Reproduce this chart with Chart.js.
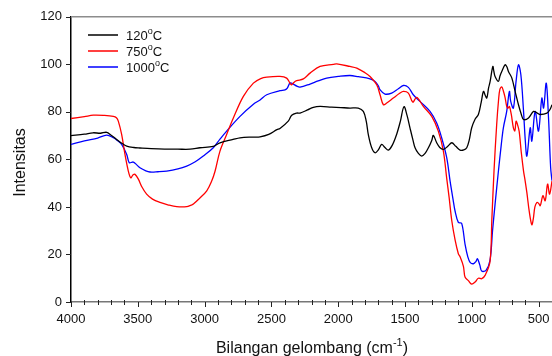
<!DOCTYPE html>
<html>
<head>
<meta charset="utf-8">
<script src="https://cdn.jsdelivr.net/npm/chart.js@4"></script>
<style>
  html, body { margin: 0; padding: 0; background: #fff; }
  #wrap { width: 552px; height: 356px; }
</style>
</head>
<body>
<div id="wrap"><canvas id="ftir"></canvas></div>
<script>
// Series labels (the "o" is drawn as superscript degree sign)
const seriesNames = ["120", "750", "1000"];
const seriesColors = ["#000000", "#ff0000", "#0000ff"];

// 120 C sample
const wn120 = [4000, 3900, 3835, 3780, 3733, 3700, 3658, 3620, 3583, 3530, 3484, 3400, 3300, 3200, 3109, 3034, 2935, 2885, 2787, 2735, 2637, 2585, 2520, 2459, 2436, 2374, 2348, 2311, 2286, 2230, 2186, 2136, 2050, 1980, 1912, 1850, 1812, 1790, 1775, 1750, 1725, 1700, 1675, 1650, 1625, 1595, 1563, 1535, 1508, 1485, 1463, 1440, 1425, 1400, 1375, 1350, 1325, 1300, 1288, 1263, 1240, 1213, 1180, 1150, 1120, 1088, 1060, 1038, 1020, 1001, 975, 951, 930, 913, 900, 888, 875, 863, 843, 835, 826, 801, 790, 776, 751, 738, 726, 701, 676, 651, 630, 613, 576, 538, 510, 488, 438, 415, 400];
const val120 = [70.0, 70.6, 71.2, 71.0, 71.4, 70.2, 68.4, 66.8, 65.6, 65.0, 64.8, 64.5, 64.3, 64.3, 64.3, 64.9, 65.5, 67.0, 68.4, 69.1, 69.4, 69.5, 70.5, 72.5, 73.0, 76.1, 78.6, 79.5, 79.5, 80.8, 81.9, 82.3, 82.0, 81.8, 81.6, 81.6, 80.2, 76.0, 70.5, 65.0, 62.8, 64.0, 66.3, 65.0, 63.9, 66.0, 70.5, 76.0, 82.2, 78.5, 73.3, 68.0, 64.9, 62.5, 61.4, 62.5, 64.9, 68.0, 70.1, 67.0, 65.0, 64.2, 65.5, 67.0, 65.5, 63.9, 64.0, 64.9, 68.0, 73.3, 77.0, 78.9, 84.0, 88.6, 87.0, 85.8, 90.0, 92.8, 99.1, 97.0, 94.9, 92.8, 95.0, 97.0, 99.8, 99.0, 97.0, 94.3, 88.6, 83.0, 79.0, 76.8, 77.4, 80.2, 79.5, 78.9, 79.5, 81.0, 83.0];

// 750 C sample
const wn750 = [4000, 3900, 3833, 3750, 3683, 3660, 3646, 3621, 3596, 3571, 3553, 3535, 3521, 3496, 3470, 3434, 3390, 3334, 3270, 3209, 3134, 3100, 3084, 3040, 2984, 2947, 2922, 2885, 2835, 2785, 2710, 2635, 2580, 2535, 2436, 2386, 2361, 2348, 2330, 2311, 2261, 2211, 2136, 2036, 2011, 1912, 1861, 1800, 1762, 1712, 1687, 1662, 1637, 1588, 1540, 1513, 1475, 1442, 1413, 1363, 1300, 1251, 1213, 1188, 1170, 1150, 1125, 1101, 1088, 1063, 1051, 1026, 1001, 976, 951, 926, 901, 864, 850, 834, 814, 800, 790, 776, 765, 751, 739, 730, 719, 705, 689, 678, 669, 660, 646, 630, 613, 601, 588, 570, 551, 540, 528, 513, 500, 488, 468, 451, 433, 418, 400];
const val750 = [77.2, 78.0, 78.6, 78.5, 78.1, 77.5, 76.1, 70.5, 62.1, 55.1, 52.3, 53.5, 53.7, 51.7, 48.5, 45.4, 43.3, 41.9, 40.8, 40.1, 40.1, 40.8, 41.2, 43.5, 46.8, 50.9, 55.0, 63.5, 70.5, 77.4, 86.5, 92.1, 94.0, 94.6, 94.9, 94.2, 92.1, 91.4, 92.5, 93.1, 93.9, 96.3, 99.1, 100.0, 100.2, 99.1, 98.4, 96.5, 94.9, 91.4, 87.2, 83.0, 83.7, 85.8, 87.8, 88.6, 87.9, 84.1, 86.1, 82.3, 78.1, 71.9, 63.5, 52.0, 44.0, 34.2, 26.0, 20.3, 19.0, 15.0, 10.5, 9.0, 7.5, 8.4, 10.0, 9.8, 11.2, 17.0, 35.0, 55.1, 74.7, 85.0, 89.5, 90.5, 89.0, 86.0, 82.3, 81.5, 82.3, 79.0, 73.3, 72.0, 76.1, 75.0, 71.9, 63.0, 55.1, 51.0, 46.0, 38.0, 32.5, 35.0, 40.0, 41.9, 41.5, 40.5, 44.7, 42.6, 49.6, 45.4, 50.9];

// 1000 C sample
const wn1000 = [4000, 3900, 3800, 3733, 3683, 3650, 3621, 3583, 3564, 3534, 3510, 3484, 3440, 3409, 3350, 3284, 3200, 3134, 3070, 3010, 2935, 2885, 2835, 2735, 2635, 2585, 2535, 2436, 2398, 2381, 2361, 2336, 2310, 2286, 2211, 2150, 2086, 2000, 1912, 1850, 1762, 1725, 1700, 1687, 1650, 1600, 1550, 1513, 1475, 1438, 1388, 1313, 1263, 1226, 1188, 1163, 1140, 1126, 1101, 1076, 1051, 1030, 1013, 988, 970, 958, 940, 926, 894, 864, 845, 826, 801, 780, 764, 739, 719, 709, 689, 669, 651, 633, 613, 600, 588, 563, 551, 526, 501, 476, 463, 443, 426, 410, 400];
const val1000 = [66.3, 67.8, 69.0, 70.2, 69.1, 67.8, 66.3, 62.1, 58.6, 58.9, 57.8, 56.5, 55.2, 54.7, 54.8, 55.1, 56.0, 57.2, 59.0, 61.4, 64.9, 68.5, 71.9, 78.1, 83.2, 85.0, 87.2, 88.9, 89.3, 90.0, 92.1, 91.7, 90.8, 90.4, 91.7, 93.0, 94.2, 94.9, 95.3, 94.8, 93.9, 92.8, 91.0, 89.3, 87.5, 87.9, 89.7, 91.1, 90.3, 87.2, 84.4, 80.2, 75.3, 69.1, 60.7, 51.0, 43.0, 38.4, 33.5, 33.1, 24.4, 19.0, 16.7, 16.1, 17.0, 18.2, 15.5, 13.0, 13.3, 17.5, 30.0, 41.2, 55.1, 66.0, 73.3, 80.2, 88.6, 84.4, 81.6, 92.8, 99.8, 95.6, 80.2, 68.0, 61.4, 73.3, 67.7, 80.2, 71.9, 85.8, 81.6, 92.1, 77.4, 56.5, 51.0];

const yTicks = [0, 20, 40, 60, 80, 100, 120];
const xLabels = [4000, 3500, 3000, 2500, 2000, 1500, 1000, 500];

const FONT = "'Liberation Sans', Arial, sans-serif";

function toPoints(xs, ys) {
    return xs.map((x, i) => ({ x: x, y: ys[i] }));
}

// Draws frame top line, crossing ticks, inside legend and axis titles
const decorations = {
    id: "decorations",
    afterDraw(chart) {
        const ctx = chart.ctx;
        const area = chart.chartArea;
        const xs = chart.scales.x;
        const ys = chart.scales.y;
        ctx.save();

        // top frame line
        ctx.strokeStyle = "#8c8c8c";
        ctx.lineWidth = 1.5;
        ctx.beginPath();
        ctx.moveTo(area.left, area.top);
        ctx.lineTo(area.right, area.top);
        ctx.stroke();

        // x ticks every 100, longer at labelled values
        ctx.strokeStyle = "#222";
        ctx.lineWidth = 1;
        for (let v = 400; v <= 4000; v += 100) {
            const px = Math.round(xs.getPixelForValue(v)) + 0.5;
            ctx.beginPath();
            if (v % 500 === 0) {
                ctx.moveTo(px, area.bottom);
                ctx.lineTo(px, area.bottom + 5);
            } else {
                ctx.moveTo(px, area.bottom - 2);
                ctx.lineTo(px, area.bottom + 3);
            }
            ctx.stroke();
        }

        // y ticks
        yTicks.forEach(v => {
            const py = Math.round(ys.getPixelForValue(v)) + 0.5;
            ctx.beginPath();
            ctx.moveTo(area.left - 5, py);
            ctx.lineTo(area.left, py);
            ctx.stroke();
        });

        // legend
        ctx.textBaseline = "middle";
        ctx.textAlign = "left";
        seriesNames.forEach((name, i) => {
            const ly = 35 + i * 16;
            ctx.strokeStyle = seriesColors[i];
            ctx.lineWidth = 1.5;
            ctx.beginPath();
            ctx.moveTo(88, ly);
            ctx.lineTo(118, ly);
            ctx.stroke();
            ctx.fillStyle = "#111";
            ctx.font = "13px " + FONT;
            ctx.fillText(name, 126, ly + 1);
            let lx = 126 + ctx.measureText(name).width;
            ctx.font = "9px " + FONT;
            ctx.fillText("o", lx, ly - 3);
            lx += ctx.measureText("o").width;
            ctx.font = "13px " + FONT;
            ctx.fillText("C", lx, ly + 1);
        });

        // x title with superscript
        const main = "Bilangan gelombang (cm";
        const sup = "-1";
        ctx.textBaseline = "alphabetic";
        ctx.font = "16px " + FONT;
        const w1 = ctx.measureText(main).width;
        const w3 = ctx.measureText(")").width;
        ctx.font = "11px " + FONT;
        const w2 = ctx.measureText(sup).width;
        let tx = 312 - (w1 + w2 + w3) / 2;
        const ty = 353;
        ctx.fillStyle = "#111";
        ctx.font = "16px " + FONT;
        ctx.fillText(main, tx, ty);
        tx += w1;
        ctx.font = "11px " + FONT;
        ctx.fillText(sup, tx, ty - 7);
        tx += w2;
        ctx.font = "16px " + FONT;
        ctx.fillText(")", tx, ty);

        // y title
        ctx.translate(25, 162.5);
        ctx.rotate(-Math.PI / 2);
        ctx.textAlign = "center";
        ctx.font = "16px " + FONT;
        ctx.fillText("Intensitas", 0, 0);

        ctx.restore();
    }
};

const datasets = [
    toPoints(wn120, val120),
    toPoints(wn750, val750),
    toPoints(wn1000, val1000)
].map((pts, i) => ({
    label: seriesNames[i] + "\u00B0C",
    data: pts,
    borderColor: seriesColors[i],
    borderWidth: 1.3,
    pointRadius: 0,
    tension: 0.35,
    fill: false
}));

new Chart(document.getElementById("ftir"), {
    type: "line",
    data: { datasets: datasets },
    plugins: [decorations],
    options: {
        responsive: true,
        maintainAspectRatio: false,
        animation: false,
        layout: { padding: { top: 15, right: 0, left: 0, bottom: 0 } },
        plugins: {
            legend: { display: false },
            tooltip: { enabled: false }
        },
        scales: {
            x: {
                type: "linear",
                reverse: true,
                min: 400,
                max: 4000,
                afterFit: s => { s.height = 54; s.paddingLeft = 0; s.paddingRight = 0; },
                border: { color: "#777", width: 1.5 },
                grid: { display: false, drawTicks: false },
                ticks: {
                    stepSize: 100,
                    autoSkip: false,
                    maxRotation: 0,
                    padding: 10,
                    color: "#111",
                    font: { family: FONT, size: 13 },
                    callback: v => xLabels.includes(v) ? String(v) : ""
                }
            },
            y: {
                min: 0,
                max: 120,
                afterFit: s => { s.width = 71; },
                border: { color: "#000", width: 1.5 },
                grid: { display: false, drawTicks: false },
                ticks: {
                    stepSize: 20,
                    padding: 9,
                    color: "#111",
                    font: { family: FONT, size: 13 }
                }
            }
        }
    }
});
</script>
</body>
</html>
